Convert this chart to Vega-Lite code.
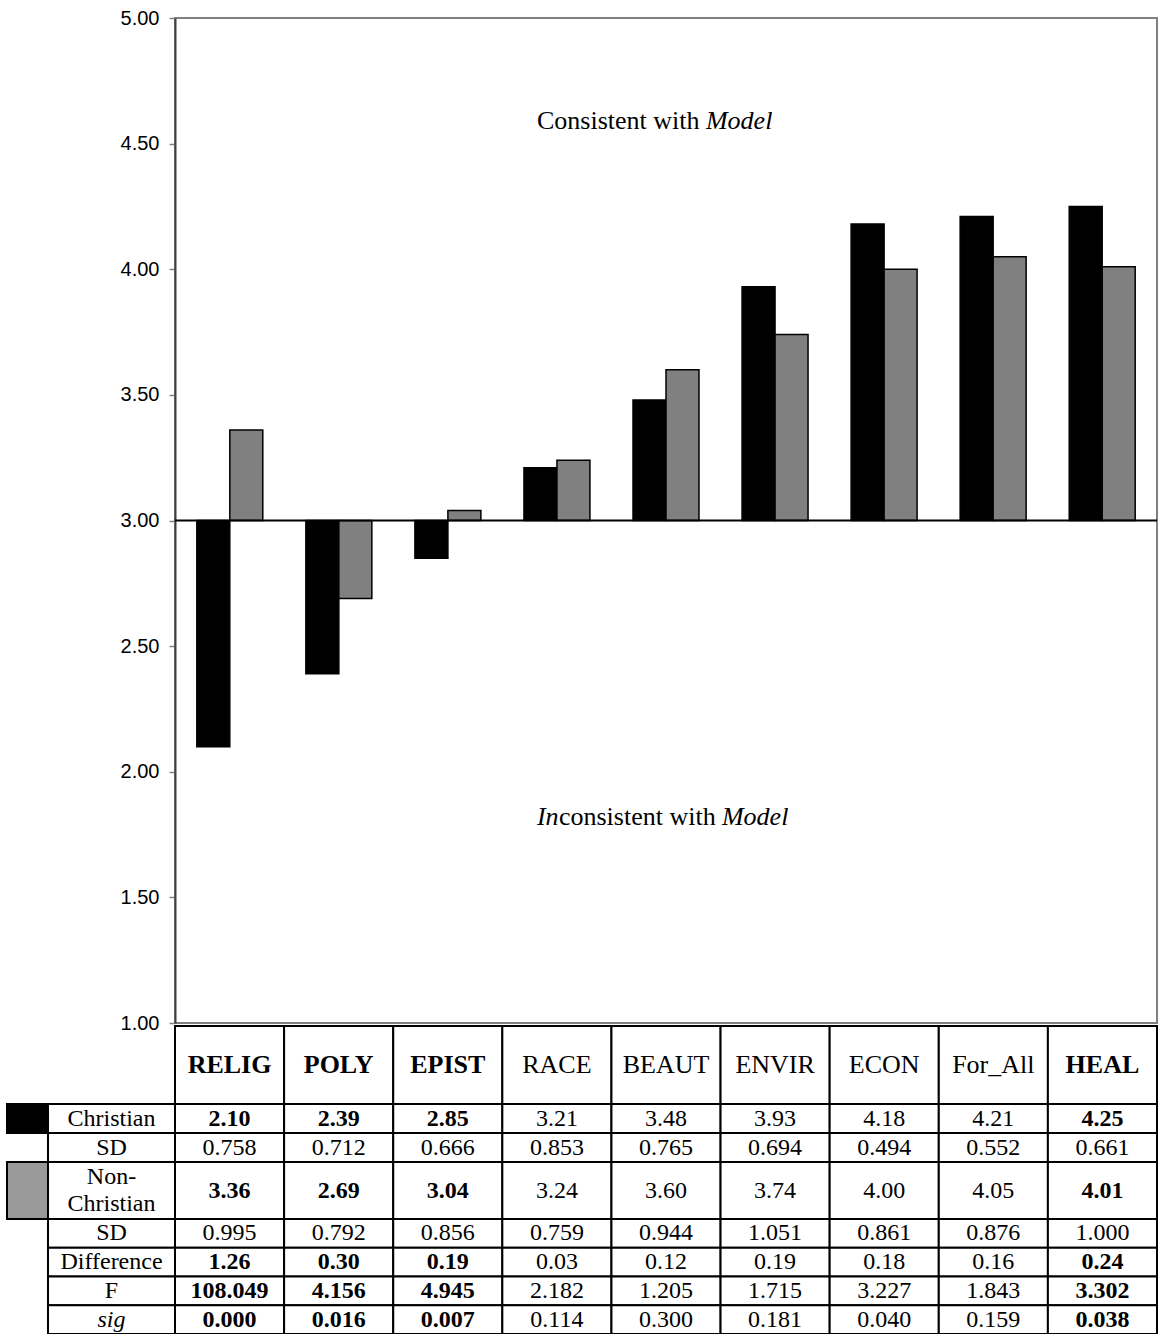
{
  "$schema": "https://vega.github.io/schema/vega-lite/v6.json",
  "background": "white",
  "padding": {"left": 6, "top": 7, "right": 0, "bottom": 0},
  "config": {
    "view": {"stroke": null},
    "text": {"font": "Liberation Serif", "color": "black"}
  },
  "datasets": {
    "stats": [
      {"variable": "RELIG", "christian": 2.10, "christian_sd": 0.758, "non_christian": 3.36, "non_christian_sd": 0.995, "difference": 1.26, "F": 108.049, "sig": 0.000},
      {"variable": "POLY", "christian": 2.39, "christian_sd": 0.712, "non_christian": 2.69, "non_christian_sd": 0.792, "difference": 0.30, "F": 4.156, "sig": 0.016},
      {"variable": "EPIST", "christian": 2.85, "christian_sd": 0.666, "non_christian": 3.04, "non_christian_sd": 0.856, "difference": 0.19, "F": 4.945, "sig": 0.007},
      {"variable": "RACE", "christian": 3.21, "christian_sd": 0.853, "non_christian": 3.24, "non_christian_sd": 0.759, "difference": 0.03, "F": 2.182, "sig": 0.114},
      {"variable": "BEAUT", "christian": 3.48, "christian_sd": 0.765, "non_christian": 3.60, "non_christian_sd": 0.944, "difference": 0.12, "F": 1.205, "sig": 0.300},
      {"variable": "ENVIR", "christian": 3.93, "christian_sd": 0.694, "non_christian": 3.74, "non_christian_sd": 1.051, "difference": 0.19, "F": 1.715, "sig": 0.181},
      {"variable": "ECON", "christian": 4.18, "christian_sd": 0.494, "non_christian": 4.00, "non_christian_sd": 0.861, "difference": 0.18, "F": 3.227, "sig": 0.040},
      {"variable": "For_All", "christian": 4.21, "christian_sd": 0.552, "non_christian": 4.05, "non_christian_sd": 0.876, "difference": 0.16, "F": 1.843, "sig": 0.159},
      {"variable": "HEAL", "christian": 4.25, "christian_sd": 0.661, "non_christian": 4.01, "non_christian_sd": 1.000, "difference": 0.24, "F": 3.302, "sig": 0.038}
    ],
    "rowLabels": [
      {"stat": "christian", "label": "Christian"},
      {"stat": "christian_sd", "label": "SD"},
      {"stat": "non_christian", "label": "Non-\nChristian"},
      {"stat": "non_christian_sd", "label": "SD"},
      {"stat": "difference", "label": "Difference"},
      {"stat": "F", "label": "F"},
      {"stat": "sig", "label": "sig"}
    ]
  },
  "columns": 3,
  "spacing": 0,
  "align": "each",
  "bounds": "flush",
  "concat": [
    {"width": 1, "height": 1, "data": {"values": []}, "mark": "text"},
    {"width": 1, "height": 1, "data": {"values": []}, "mark": "text"},
    {
      "width": 982,
      "height": 1005,
      "view": {"stroke": "#808080", "strokeWidth": 2},
      "layer": [
        {
          "data": {"name": "stats"},
          "transform": [{"fold": ["christian", "non_christian"], "as": ["group", "mean"]}],
          "mark": {"type": "bar", "stroke": "black", "strokeWidth": 1.5},
          "encoding": {
            "x": {
              "field": "variable", "type": "nominal",
              "scale": {"domain": ["RELIG", "POLY", "EPIST", "RACE", "BEAUT", "ENVIR", "ECON", "For_All", "HEAL"], "paddingInner": 0.395, "paddingOuter": 0.2},
              "axis": null
            },
            "xOffset": {"field": "group", "type": "nominal", "scale": {"domain": ["christian", "non_christian"]}},
            "y": {
              "field": "mean", "type": "quantitative",
              "scale": {"domain": [1, 5], "nice": false, "zero": false},
              "axis": {
                "values": [1, 1.5, 2, 2.5, 3, 3.5, 4, 4.5, 5],
                "format": ".2f", "title": null, "grid": false,
                "labelFont": "Liberation Sans", "labelFontSize": 20, "labelColor": "black",
                "tickColor": "#808080", "tickSize": 6, "tickWidth": 1.5, "labelPadding": 10,
                "domainColor": "#404040", "domainWidth": 2
              }
            },
            "y2": {"datum": 3},
            "color": {
              "field": "group", "type": "nominal",
              "scale": {"domain": ["christian", "non_christian"], "range": ["#000000", "#808080"]},
              "legend": null
            }
          }
        },
        {
          "data": {"values": [{}]},
          "mark": {"type": "rule", "color": "black", "strokeWidth": 2},
          "encoding": {"y": {"datum": 3}}
        },
        {
          "data": {"values": [{}]},
          "mark": {"type": "text", "text": "Consistent with", "align": "left", "baseline": "middle", "fontSize": 26, "dx": -20},
          "encoding": {"x": {"datum": "RACE"}, "y": {"datum": 4.59}}
        },
        {
          "data": {"values": [{}]},
          "mark": {"type": "text", "text": "Model", "align": "left", "baseline": "middle", "fontSize": 26, "fontStyle": "italic", "dx": 149},
          "encoding": {"x": {"datum": "RACE"}, "y": {"datum": 4.59}}
        },
        {
          "data": {"values": [{}]},
          "mark": {"type": "text", "text": "In", "align": "left", "baseline": "middle", "fontSize": 26, "fontStyle": "italic", "dx": -20},
          "encoding": {"x": {"datum": "RACE"}, "y": {"datum": 1.82}}
        },
        {
          "data": {"values": [{}]},
          "mark": {"type": "text", "text": "consistent with", "align": "left", "baseline": "middle", "fontSize": 26, "dx": 2},
          "encoding": {"x": {"datum": "RACE"}, "y": {"datum": 1.82}}
        },
        {
          "data": {"values": [{}]},
          "mark": {"type": "text", "text": "Model", "align": "left", "baseline": "middle", "fontSize": 26, "fontStyle": "italic", "dx": 165},
          "encoding": {"x": {"datum": "RACE"}, "y": {"datum": 1.82}}
        }
      ]
    },
    {"width": 1, "height": 1, "data": {"values": []}, "mark": "text"},
    {"width": 1, "height": 1, "data": {"values": []}, "mark": "text"},
    {
      "width": 982,
      "height": 81,
      "data": {"name": "stats"},
      "transform": [
        {"calculate": "indexof(['RELIG','POLY','EPIST','HEAL'], datum.variable) >= 0", "as": "emphasis"}
      ],
      "encoding": {
        "x": {
          "field": "variable", "type": "nominal",
          "scale": {"domain": ["RELIG", "POLY", "EPIST", "RACE", "BEAUT", "ENVIR", "ECON", "For_All", "HEAL"], "padding": 0},
          "axis": null
        },
        "y": {"datum": "header", "scale": {"paddingInner": 0, "paddingOuter": 0.0192, "align": 1}, "axis": null}
      },
      "layer": [
        {"mark": {"type": "rect", "fill": "white", "stroke": "black", "strokeWidth": 2}},
        {
          "transform": [{"filter": "!datum.emphasis"}],
          "mark": {"type": "text", "fontSize": 26},
          "encoding": {"text": {"field": "variable"}}
        },
        {
          "transform": [{"filter": "datum.emphasis"}],
          "mark": {"type": "text", "fontSize": 26, "fontWeight": "bold"},
          "encoding": {"text": {"field": "variable"}}
        }
      ]
    },
    {
      "width": 41,
      "height": 58,
      "data": {"name": "rowLabels"},
      "transform": [{"filter": "datum.stat == 'christian'"}],
      "mark": {"type": "rect", "fill": "black", "stroke": "black", "strokeWidth": 2},
      "encoding": {
        "x": {"datum": "key", "scale": {"padding": 0}, "axis": null},
        "y": {"field": "stat", "type": "nominal", "scale": {"domain": ["christian", "christian_sd"], "padding": 0}, "axis": null}
      }
    },
    {
      "width": 127,
      "height": 58,
      "data": {"name": "rowLabels"},
      "transform": [{"filter": "indexof(['christian','christian_sd'], datum.stat) >= 0"}],
      "encoding": {
        "x": {"datum": "label", "scale": {"padding": 0}, "axis": null},
        "y": {"field": "stat", "type": "nominal", "scale": {"domain": ["christian", "christian_sd"], "padding": 0}, "axis": null}
      },
      "layer": [
        {"mark": {"type": "rect", "fill": "white", "stroke": "black", "strokeWidth": 2}},
        {"mark": {"type": "text", "fontSize": 24}, "encoding": {"text": {"field": "label"}}}
      ]
    },
    {
      "width": 982,
      "height": 58,
      "data": {"name": "stats"},
      "transform": [
        {"fold": ["christian", "christian_sd"], "as": ["stat", "value"]},
        {"calculate": "format(datum.value, indexof(['christian','non_christian','difference'], datum.stat) >= 0 ? '.2f' : '.3f')", "as": "label"},
        {"calculate": "indexof(['RELIG','POLY','EPIST','HEAL'], datum.variable) >= 0 && indexof(['christian_sd','non_christian_sd'], datum.stat) < 0", "as": "emphasis"}
      ],
      "encoding": {
        "x": {
          "field": "variable", "type": "nominal",
          "scale": {"domain": ["RELIG", "POLY", "EPIST", "RACE", "BEAUT", "ENVIR", "ECON", "For_All", "HEAL"], "padding": 0},
          "axis": null
        },
        "y": {"field": "stat", "type": "nominal", "scale": {"domain": ["christian", "christian_sd"], "padding": 0}, "axis": null}
      },
      "layer": [
        {"mark": {"type": "rect", "fill": "white", "stroke": "black", "strokeWidth": 2}},
        {
          "transform": [{"filter": "!datum.emphasis"}],
          "mark": {"type": "text", "fontSize": 24},
          "encoding": {"text": {"field": "label"}}
        },
        {
          "transform": [{"filter": "datum.emphasis"}],
          "mark": {"type": "text", "fontSize": 24, "fontWeight": "bold"},
          "encoding": {"text": {"field": "label"}}
        }
      ]
    },
    {
      "width": 41,
      "height": 57,
      "data": {"name": "rowLabels"},
      "transform": [{"filter": "datum.stat == 'non_christian'"}],
      "mark": {"type": "rect", "fill": "#999999", "stroke": "black", "strokeWidth": 2},
      "encoding": {
        "x": {"datum": "key", "scale": {"padding": 0}, "axis": null},
        "y": {"field": "stat", "type": "nominal", "scale": {"domain": ["non_christian"], "padding": 0}, "axis": null}
      }
    },
    {
      "width": 127,
      "height": 57,
      "data": {"name": "rowLabels"},
      "transform": [{"filter": "datum.stat == 'non_christian'"}],
      "encoding": {
        "x": {"datum": "label", "scale": {"padding": 0}, "axis": null},
        "y": {"field": "stat", "type": "nominal", "scale": {"domain": ["non_christian"], "padding": 0}, "axis": null}
      },
      "layer": [
        {"mark": {"type": "rect", "fill": "white", "stroke": "black", "strokeWidth": 2}},
        {"mark": {"type": "text", "fontSize": 24, "lineBreak": "\n", "lineHeight": 27, "dy": -13.5}, "encoding": {"text": {"field": "label"}}}
      ]
    },
    {
      "width": 982,
      "height": 57,
      "data": {"name": "stats"},
      "transform": [
        {"fold": ["non_christian"], "as": ["stat", "value"]},
        {"calculate": "format(datum.value, '.2f')", "as": "label"},
        {"calculate": "indexof(['RELIG','POLY','EPIST','HEAL'], datum.variable) >= 0", "as": "emphasis"}
      ],
      "encoding": {
        "x": {
          "field": "variable", "type": "nominal",
          "scale": {"domain": ["RELIG", "POLY", "EPIST", "RACE", "BEAUT", "ENVIR", "ECON", "For_All", "HEAL"], "padding": 0},
          "axis": null
        },
        "y": {"field": "stat", "type": "nominal", "scale": {"domain": ["non_christian"], "padding": 0}, "axis": null}
      },
      "layer": [
        {"mark": {"type": "rect", "fill": "white", "stroke": "black", "strokeWidth": 2}},
        {
          "transform": [{"filter": "!datum.emphasis"}],
          "mark": {"type": "text", "fontSize": 24},
          "encoding": {"text": {"field": "label"}}
        },
        {
          "transform": [{"filter": "datum.emphasis"}],
          "mark": {"type": "text", "fontSize": 24, "fontWeight": "bold"},
          "encoding": {"text": {"field": "label"}}
        }
      ]
    },
    {"width": 1, "height": 1, "data": {"values": []}, "mark": "text"},
    {
      "width": 127,
      "height": 115,
      "data": {"name": "rowLabels"},
      "transform": [{"filter": "indexof(['non_christian_sd','difference','F','sig'], datum.stat) >= 0"}],
      "encoding": {
        "x": {"datum": "label", "scale": {"padding": 0}, "axis": null},
        "y": {"field": "stat", "type": "nominal", "scale": {"domain": ["non_christian_sd", "difference", "F", "sig"], "padding": 0}, "axis": null}
      },
      "layer": [
        {"mark": {"type": "rect", "fill": "white", "stroke": "black", "strokeWidth": 2}},
        {
          "transform": [{"filter": "datum.stat != 'sig'"}],
          "mark": {"type": "text", "fontSize": 24},
          "encoding": {"text": {"field": "label"}}
        },
        {
          "transform": [{"filter": "datum.stat == 'sig'"}],
          "mark": {"type": "text", "fontSize": 24, "fontStyle": "italic"},
          "encoding": {"text": {"field": "label"}}
        }
      ]
    },
    {
      "width": 982,
      "height": 115,
      "data": {"name": "stats"},
      "transform": [
        {"fold": ["non_christian_sd", "difference", "F", "sig"], "as": ["stat", "value"]},
        {"calculate": "format(datum.value, datum.stat == 'difference' ? '.2f' : '.3f')", "as": "label"},
        {"calculate": "indexof(['RELIG','POLY','EPIST','HEAL'], datum.variable) >= 0 && datum.stat != 'non_christian_sd'", "as": "emphasis"}
      ],
      "encoding": {
        "x": {
          "field": "variable", "type": "nominal",
          "scale": {"domain": ["RELIG", "POLY", "EPIST", "RACE", "BEAUT", "ENVIR", "ECON", "For_All", "HEAL"], "padding": 0},
          "axis": null
        },
        "y": {"field": "stat", "type": "nominal", "scale": {"domain": ["non_christian_sd", "difference", "F", "sig"], "padding": 0}, "axis": null}
      },
      "layer": [
        {"mark": {"type": "rect", "fill": "white", "stroke": "black", "strokeWidth": 2}},
        {
          "transform": [{"filter": "!datum.emphasis"}],
          "mark": {"type": "text", "fontSize": 24},
          "encoding": {"text": {"field": "label"}}
        },
        {
          "transform": [{"filter": "datum.emphasis"}],
          "mark": {"type": "text", "fontSize": 24, "fontWeight": "bold"},
          "encoding": {"text": {"field": "label"}}
        }
      ]
    }
  ]
}
